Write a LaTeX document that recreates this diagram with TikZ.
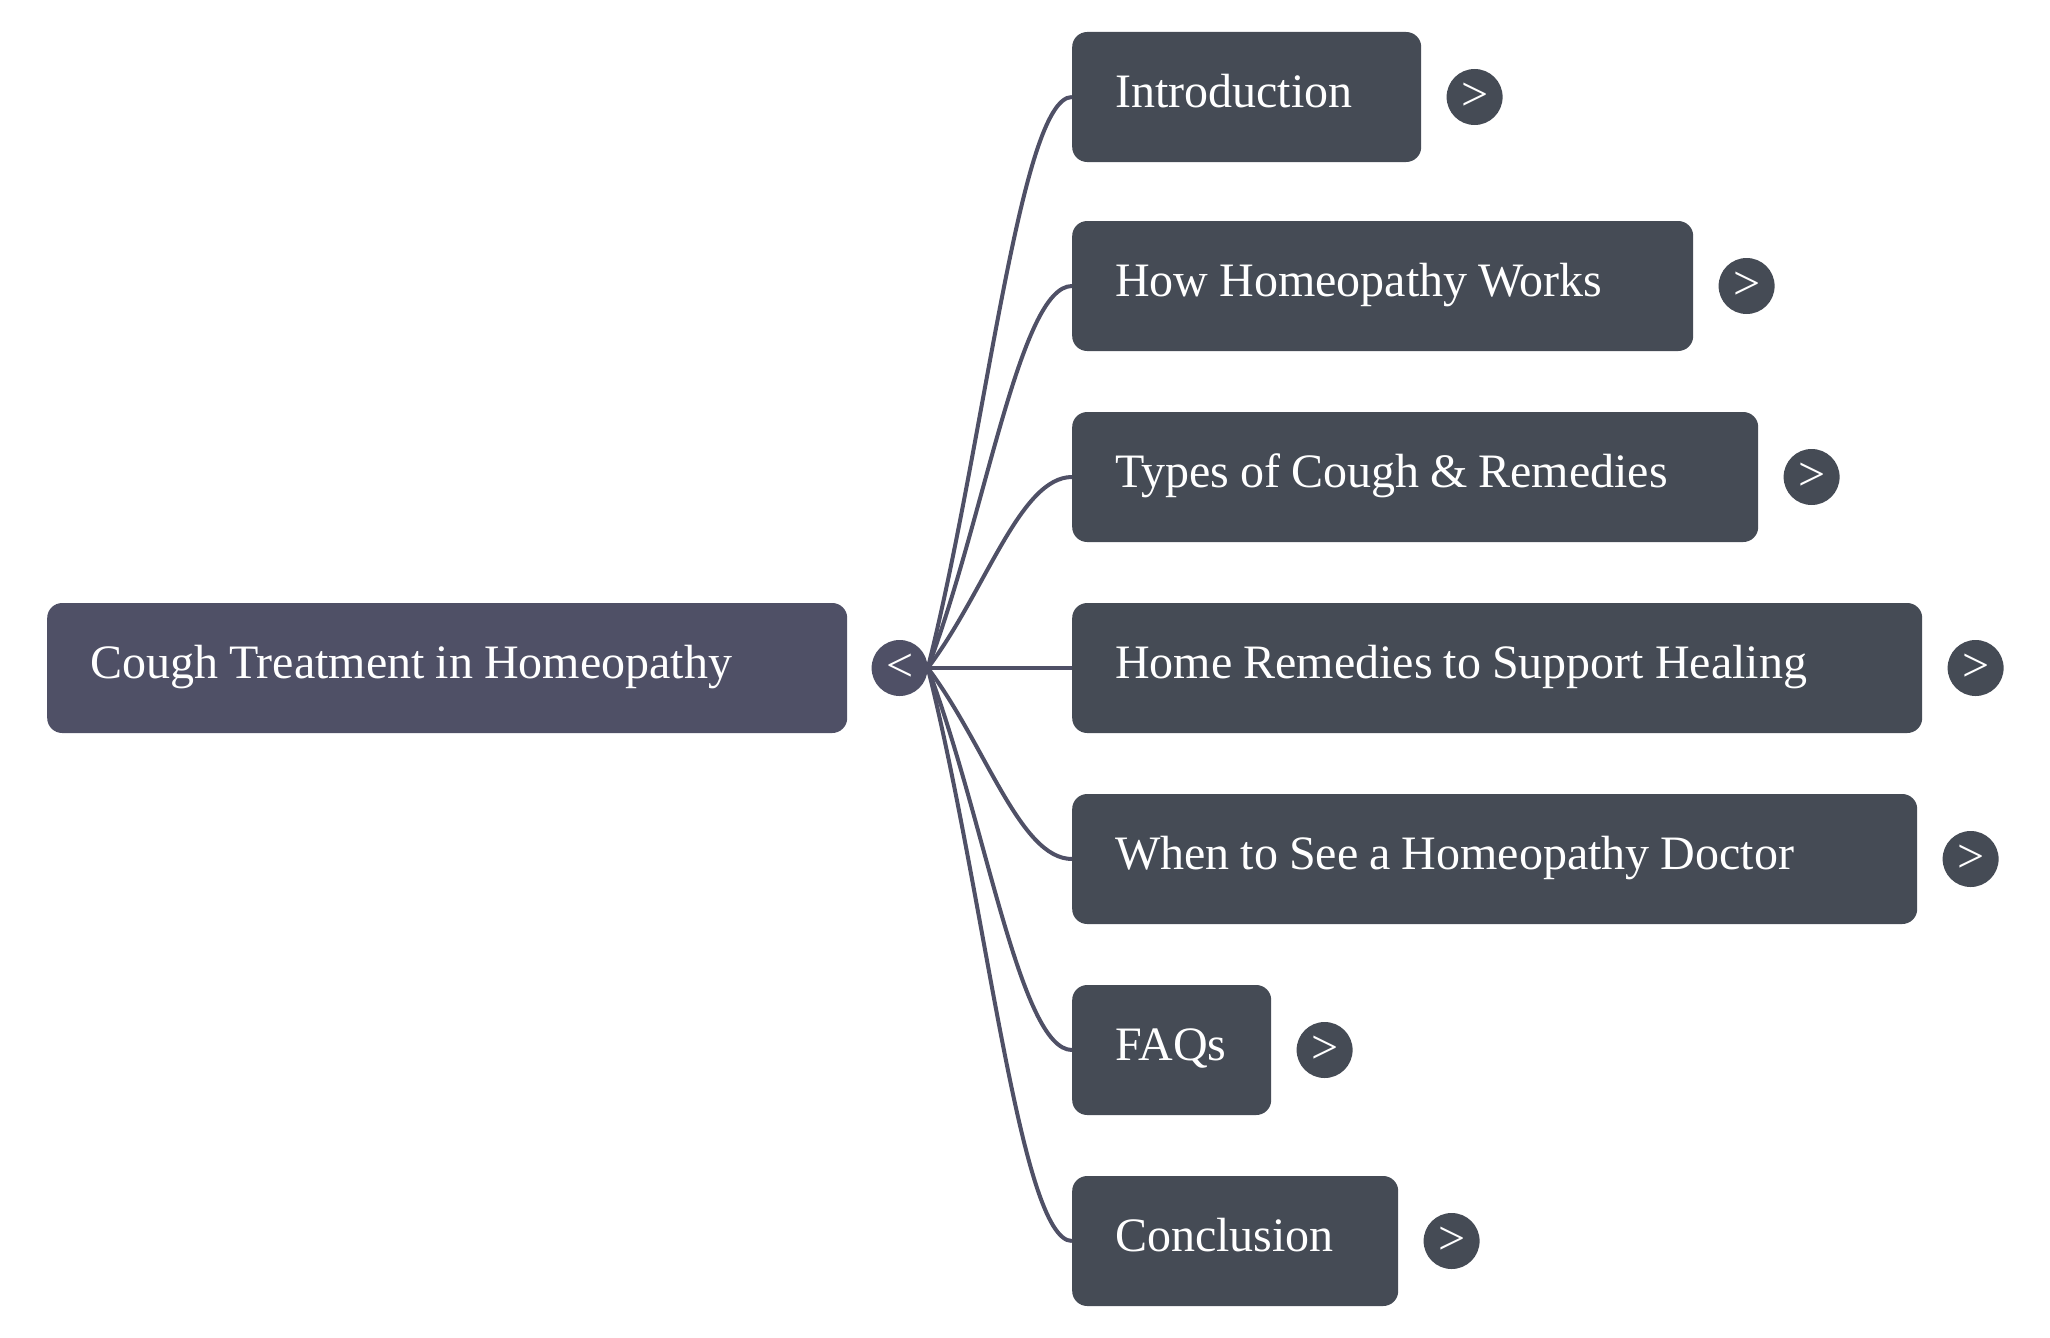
\documentclass[tikz,border=0pt]{standalone}
\usepackage{fontspec}
\setmainfont{Liberation Serif}
\usetikzlibrary{positioning, calc}
\definecolor{rootgray}{HTML}{4F5066}
\definecolor{topicgray}{HTML}{454B55}

\begin{document}
\begin{tikzpicture}[
  x=1pt, y=-1pt,
  rootbox/.style={fill=rootgray, rounded corners=15pt, text=white, anchor=west, minimum height=130pt, inner xsep=43pt, align=left, text height=34pt, text depth=13pt, font=\fontsize{48}{58}\selectfont, execute at begin node={\spaceskip=11pt\relax}},
  topic/.style={fill=topicgray, rounded corners=15pt, text=white, anchor=west, minimum height=130pt, inner xsep=43pt, align=left, text height=34pt, text depth=13pt, font=\fontsize{48}{58}\selectfont, execute at begin node={\spaceskip=11pt\relax}},
  knob/.style={circle, fill=topicgray, minimum size=56pt, inner sep=0pt, text=white, font=\fontsize{48}{48}\selectfont},
  branch/.style={rootgray, line width=4pt}
]
  \useasboundingbox (0,0) rectangle (2050,1338);

  \node[rootbox, text width=714pt] (root) at (47,668) {Cough Treatment in Homeopathy};
  \node[knob, fill=rootgray, right=24pt of root] (rootk) {<};

  \node[topic, text width=263pt] (intro) at (1072,97) {Introduction};
  \node[topic, text width=535pt] (works) at (1072,286) {How Homeopathy Works};
  \node[topic, text width=600pt] (types) at (1072,477) {Types of Cough \& Remedies};
  \node[topic, text width=764pt] (home) at (1072,668) {Home Remedies to Support Healing};
  \node[topic, text width=759pt] (doctor) at (1072,859) {When to See a Homeopathy Doctor};
  \node[topic, text width=113pt] (faqs) at (1072,1050) {FAQs};
  \node[topic, text width=240pt] (concl) at (1072,1241) {Conclusion};

  \node[knob, right=25pt of intro] (introk) {>};
  \node[knob, right=25pt of works] (worksk) {>};
  \node[knob, right=25pt of types] (typesk) {>};
  \node[knob, right=25pt of home] (homek) {>};
  \node[knob, right=25pt of doctor] (doctork) {>};
  \node[knob, right=25pt of faqs] (faqsk) {>};
  \node[knob, right=25pt of concl] (conclk) {>};

  \draw[branch] (rootk.east) .. controls ($(rootk.east)!0.4!(intro.west)$) and +(-52,0) .. (intro.west);
  \draw[branch] (rootk.east) .. controls ($(rootk.east)!0.4!(works.west)$) and +(-52,0) .. (works.west);
  \draw[branch] (rootk.east) .. controls ($(rootk.east)!0.4!(types.west)$) and +(-52,0) .. (types.west);
  \draw[branch] (rootk.east) -- (home.west);
  \draw[branch] (rootk.east) .. controls ($(rootk.east)!0.4!(doctor.west)$) and +(-52,0) .. (doctor.west);
  \draw[branch] (rootk.east) .. controls ($(rootk.east)!0.4!(faqs.west)$) and +(-52,0) .. (faqs.west);
  \draw[branch] (rootk.east) .. controls ($(rootk.east)!0.4!(concl.west)$) and +(-52,0) .. (concl.west);
\end{tikzpicture}
\end{document}
